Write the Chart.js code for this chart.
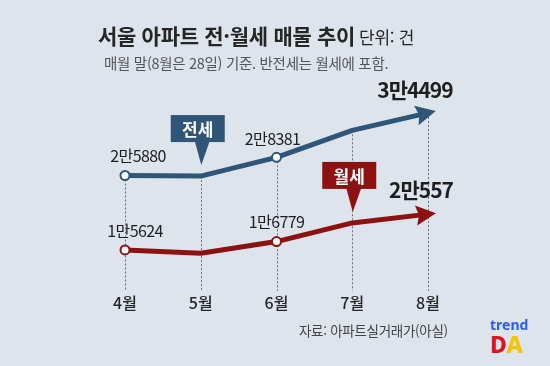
<!DOCTYPE html>
<html lang="ko">
<head>
<meta charset="utf-8">
<script src="https://cdn.jsdelivr.net/npm/chart.js@4/dist/chart.umd.min.js"></script>
<style>
  html, body { margin:0; padding:0; }
  body { width:550px; height:366px; background:#dde4eb; position:relative; overflow:hidden;
         font-family:"Noto Sans CJK KR","Noto Sans",sans-serif; }
  #wrap { position:absolute; left:0; top:0; width:550px; height:366px; }
  .t { position:absolute; white-space:nowrap; line-height:1; }
  #title { left:98px; top:25px; font-size:21px; font-weight:700; color:#262626; letter-spacing:-0.3px; }
  #title span { font-size:17px; font-weight:400; margin-left:4px; }
  #sub { left:104px; top:56px; font-size:14.5px; color:#555; letter-spacing:-0.3px; }
  #src { left:299px; top:324px; font-size:13.5px; color:#444; letter-spacing:-0.3px; }
  #logo1 { left:490px; top:318px; font-family:"Noto Sans",sans-serif; font-size:14px; font-weight:700; color:#2a5df5; }
  #logo2 { left:490px; top:333px; font-family:"Noto Sans",sans-serif; font-size:23px; font-weight:800; }
</style>
</head>
<body>
<div id="wrap"><canvas id="c" width="550" height="366"></canvas></div>
<div class="t" id="title">서울 아파트 전·월세 매물 추이<span>단위: 건</span></div>
<div class="t" id="sub">매월 말(8월은 28일) 기준. 반전세는 월세에 포함.</div>
<div class="t" id="src">자료: 아파트실거래가(아실)</div>
<div class="t" id="logo1">trend</div>
<div class="t" id="logo2"><span style="color:#e3121f">D</span><span style="color:#f6c500">A</span></div>
<script>
// ---- data ----
const months = ['4월', '5월', '6월', '7월', '8월'];
const jeonse = [25880, 25800, 28381, 32100, 34499];   // 전세 매물
const wolse  = [15624, 15175, 16779, 19350, 20557];   // 월세 매물
const labeledIdx = [0, 2, 4];
const seriesNames = ['전세', '월세'];
const calloutIdx = [1, 3];

const BLUE = '#2f5578';
const RED  = '#8c1212';

function fmt(v) {
  const man = Math.floor(v / 10000), rest = v % 10000;
  return man + '만' + rest;
}

// label offsets (style only)
const labelStyle = {
  0: [{dx: 13, dy: -20, bold: false}, null, {dx: -4, dy: -18, bold: false}, null, {dx: -13, dy: -23, bold: true}],
  1: [{dx: 10, dy: -19, bold: false}, null, {dx: 0, dy: -20, bold: false}, null, {dx: -7, dy: -24, bold: true}]
};

const decor = {
  id: 'decor',
  beforeDatasetsDraw(chart) {
    const ctx = chart.ctx, xs = chart.scales.x, ys = chart.scales.y;
    const bottom = chart.chartArea.bottom;
    ctx.save();
    ctx.strokeStyle = '#6a6f76';
    ctx.lineWidth = 1;
    ctx.setLineDash([2, 2]);
    months.forEach((m, i) => {
      const x = Math.round(xs.getPixelForValue(i)) + 0.5;
      const top = ys.getPixelForValue(jeonse[i]);
      ctx.beginPath();
      ctx.moveTo(x, top);
      ctx.lineTo(x, bottom);
      ctx.stroke();
    });
    ctx.restore();
  },
  afterDatasetsDraw(chart) {
    const ctx = chart.ctx, xs = chart.scales.x, ys = chart.scales.y;
    ctx.save();
    // arrowheads
    chart.data.datasets.forEach((ds, di) => {
      const meta = chart.getDatasetMeta(di);
      const n = meta.data.length;
      const p = meta.data[n - 1], q = meta.data[n - 2];
      let dx = p.x - q.x, dy = p.y - q.y;
      const L = Math.hypot(dx, dy); dx /= L; dy /= L;
      const tipX = p.x + 8 * dx, tipY = p.y + 8 * dy;
      const bX = p.x - 12 * dx, bY = p.y - 12 * dy;
      const nx = -dy, ny = dx;
      ctx.fillStyle = ds.borderColor;
      ctx.beginPath();
      ctx.moveTo(tipX, tipY);
      ctx.lineTo(bX + 10 * nx, bY + 10 * ny);
      ctx.lineTo(bX + 3 * dx, bY + 3 * dy);
      ctx.lineTo(bX - 10 * nx, bY - 10 * ny);
      ctx.closePath();
      ctx.fill();
    });
    // value labels
    ctx.textAlign = 'center';
    ctx.textBaseline = 'middle';
    ctx.fillStyle = '#1e1e1e';
    chart.data.datasets.forEach((ds, di) => {
      const meta = chart.getDatasetMeta(di);
      labeledIdx.forEach(i => {
        const st = labelStyle[di][i];
        const pt = meta.data[i];
        ctx.font = st.bold ? '700 21px "Noto Sans CJK KR"' : '400 16px "Noto Sans CJK KR"';
        ctx.letterSpacing = st.bold ? '-1px' : '-0.6px';
        ctx.fillText(fmt(ds.data[i]), pt.x + st.dx, pt.y + st.dy);
      });
    });
    // callouts
    ctx.letterSpacing = '0px';
    chart.data.datasets.forEach((ds, di) => {
      const i = calloutIdx[di];
      const x = xs.getPixelForValue(i);
      const tipY = ys.getPixelForValue(ds.data[i]) - 11;
      const boxBottom = tipY - 23, boxTop = boxBottom - 27;
      const bw = 54, cx = x - 3;
      ctx.fillStyle = ds.borderColor;
      ctx.fillRect(cx - bw / 2, boxTop, bw, boxBottom - boxTop);
      ctx.beginPath();
      ctx.moveTo(x - 6, boxBottom - 1);
      ctx.lineTo(x + 9, boxBottom - 1);
      ctx.lineTo(x + 0.5, tipY);
      ctx.closePath();
      ctx.fill();
      ctx.fillStyle = '#fff';
      ctx.font = '700 17px "Noto Sans CJK KR"';
      ctx.fillText(seriesNames[di], cx, (boxTop + boxBottom) / 2 + 1);
    });
    ctx.restore();
  }
};

new Chart(document.getElementById('c'), {
  type: 'line',
  data: {
    labels: months,
    datasets: [
      { label: seriesNames[0], data: jeonse, borderColor: BLUE, borderWidth: 5,
        pointRadius: [4.5, 0, 4.5, 0, 0], pointBackgroundColor: '#fff', pointBorderColor: BLUE,
        pointBorderWidth: 2, tension: 0, clip: false, borderJoinStyle: 'round' },
      { label: seriesNames[1], data: wolse, borderColor: RED, borderWidth: 5,
        pointRadius: [4.5, 0, 4.5, 0, 0], pointBackgroundColor: '#fff', pointBorderColor: RED,
        pointBorderWidth: 2, tension: 0, clip: false, borderJoinStyle: 'round' }
    ]
  },
  options: {
    responsive: false,
    animation: false,
    events: [],
    layout: { padding: { left: 125, right: 122, top: 102, bottom: 50 } },
    plugins: { legend: { display: false }, tooltip: { enabled: false }, title: { display: false } },
    scales: {
      x: {
        offset: false,
        grid: { display: false, drawTicks: false },
        border: { display: false },
        ticks: { padding: 3, color: '#262626', font: { family: '"Noto Sans CJK KR"', size: 16, weight: '500' } }
      },
      y: { display: false, min: 10000, max: 36000 }
    }
  },
  plugins: [decor]
});
</script>
</body>
</html>
